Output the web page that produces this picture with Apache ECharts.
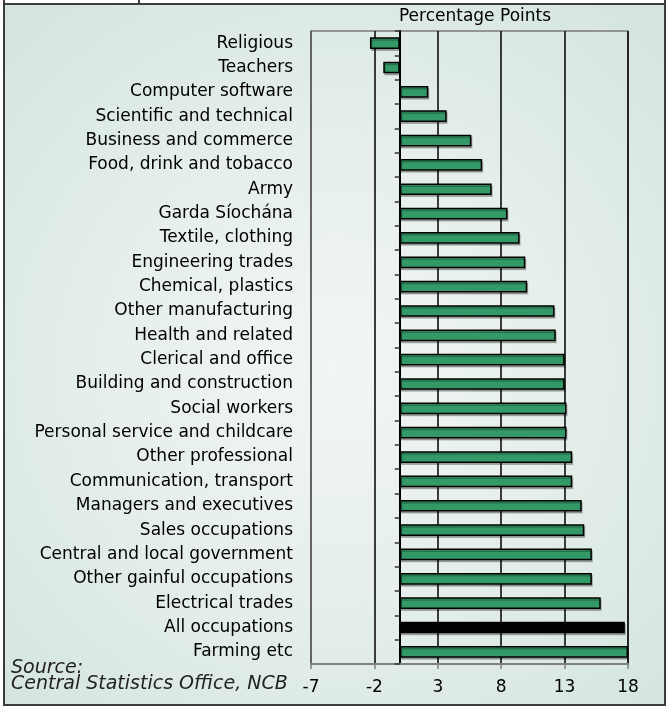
<!DOCTYPE html>
<html>
<head>
<meta charset="utf-8">
<script src="https://cdn.jsdelivr.net/npm/echarts@6/dist/echarts.min.js"></script>
<style>
  html, body { margin: 0; padding: 0; background: #ffffff; }
  #chart { width: 668px; height: 707px; }
</style>
</head>
<body>
<div id="chart"></div>
<script>
// Change in share of employment by occupation, percentage points
const categories = [
  'Religious', 'Teachers', 'Computer software', 'Scientific and technical',
  'Business and commerce', 'Food, drink and tobacco', 'Army', 'Garda Síochána',
  'Textile, clothing', 'Engineering trades', 'Chemical, plastics', 'Other manufacturing',
  'Health and related', 'Clerical and office', 'Building and construction', 'Social workers',
  'Personal service and childcare', 'Other professional', 'Communication, transport',
  'Managers and executives', 'Sales occupations', 'Central and local government',
  'Other gainful occupations', 'Electrical trades', 'All occupations', 'Farming etc'
];
const changes = [
  -2.35, -1.3, 2.25, 3.7,
  5.65, 6.5, 7.25, 8.5,
  9.45, 9.9, 10.05, 12.2,
  12.3, 13.0, 13.0, 13.15,
  13.15, 13.6, 13.6,
  14.35, 14.55, 15.15,
  15.15, 15.85, 17.75, 18.0
];
const axisRange = { min: -7, max: 18, step: 5 };
const totalCategory = 'All occupations';
const axisTitle = 'Percentage Points';
const sourceLines = ['Source:', 'Central Statistics Office, NCB'];

const FONT = 'DejaVu Sans';
const GREEN = '#339966';

const barData = changes.map((v, i) => ({
  value: v,
  itemStyle: categories[i] === totalCategory ? { color: '#000000' } : undefined
}));

const chart = echarts.init(document.getElementById('chart'), null, { renderer: 'canvas' });

chart.setOption({
  animation: false,
  backgroundColor: '#ffffff',
  textStyle: { fontFamily: FONT },
  grid: {
    left: 311, right: 40, top: 31, bottom: 43,
    show: true,
    backgroundColor: 'transparent',
    borderColor: '#7a7a7a',
    borderWidth: 1.5
  },
  graphic: [
    // panel with soft green-grey fill
    {
      type: 'rect', z: -10, silent: true,
      shape: { x: 4, y: 4, width: 661, height: 701 },
      style: {
        fill: {
          type: 'radial', x: 0.5, y: 0.52, r: 0.75,
          colorStops: [
            { offset: 0, color: '#f1f6f4' },
            { offset: 0.45, color: '#e6efeb' },
            { offset: 1, color: '#d3e4dd' }
          ]
        },
        stroke: '#3c3c3c', lineWidth: 2
      }
    },
    // header strip above the panel
    {
      type: 'rect', z: -10, silent: true,
      shape: { x: 4, y: -4, width: 661, height: 8 },
      style: { fill: '#ffffff', stroke: '#3c3c3c', lineWidth: 2 }
    },
    {
      type: 'line', z: -9, silent: true,
      shape: { x1: 139, y1: 0, x2: 139, y2: 4 },
      style: { stroke: '#3c3c3c', lineWidth: 2 }
    },
    {
      type: 'text', silent: true,
      x: 475, y: 17,
      style: {
        text: axisTitle, font: '17px "' + FONT + '"', fill: '#000',
        align: 'center', verticalAlign: 'middle'
      }
    },
    {
      type: 'text', silent: true,
      x: 11, y: 668,
      style: {
        text: sourceLines[0], font: 'italic 19px "' + FONT + '"', fill: '#222',
        align: 'left', verticalAlign: 'middle'
      }
    },
    {
      type: 'text', silent: true,
      x: 11, y: 684,
      style: {
        text: sourceLines[1], font: 'italic 19px "' + FONT + '"', fill: '#222',
        align: 'left', verticalAlign: 'middle'
      }
    }
  ],
  xAxis: {
    type: 'value',
    min: axisRange.min,
    max: axisRange.max,
    interval: axisRange.step,
    position: 'bottom',
    axisLine: { show: true, onZero: false, lineStyle: { color: '#808080', width: 2 } },
    axisTick: { show: true, length: 5, lineStyle: { color: '#808080', width: 1.5 } },
    axisLabel: { fontFamily: FONT, fontSize: 17, color: '#000', margin: 15 },
    splitLine: { show: true, lineStyle: { color: '#000', width: 1.5 } }
  },
  yAxis: [
    {
      type: 'category',
      data: categories,
      inverse: true,
      position: 'left',
      axisLine: { show: true, onZero: false, lineStyle: { color: '#7a7a7a', width: 1.5 } },
      axisTick: { show: false },
      axisLabel: { fontFamily: FONT, fontSize: 17, color: '#000', margin: 18 },
      splitLine: { show: false }
    },
    {
      // zero line with category ticks
      type: 'category',
      data: categories,
      inverse: true,
      position: 'left',
      axisLine: { show: true, onZero: true, lineStyle: { color: '#000', width: 2 } },
      axisTick: { show: true, length: 5, lineStyle: { color: '#333', width: 1.5 } },
      axisLabel: { show: false },
      splitLine: { show: false }
    }
  ],
  series: [
    {
      type: 'bar',
      xAxisIndex: 0,
      yAxisIndex: 0,
      data: barData,
      barWidth: '48%',
      itemStyle: {
        color: GREEN,
        borderColor: '#000',
        borderWidth: 1.5,
        shadowColor: 'rgba(0,0,0,0.25)',
        shadowOffsetX: 1,
        shadowOffsetY: 2,
        shadowBlur: 0
      }
    }
  ]
});
</script>
</body>
</html>
